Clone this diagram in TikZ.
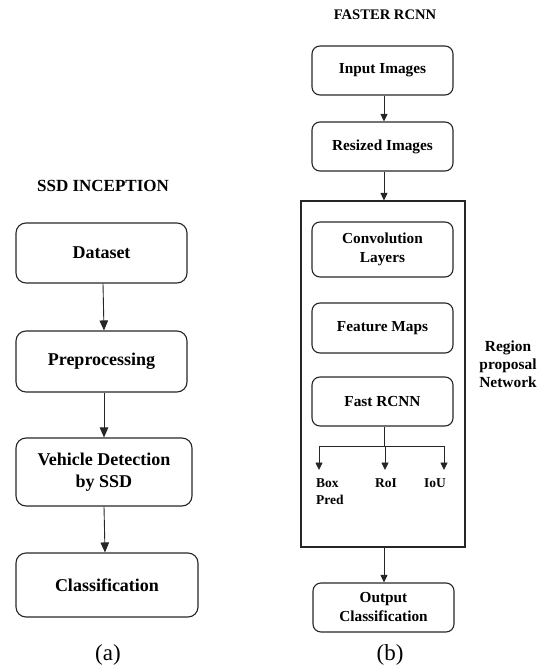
\documentclass[tikz,border=0pt]{standalone}
\usepackage{fontspec}
\setmainfont{Liberation Serif}
\usetikzlibrary{arrows.meta,calc}
\begin{document}
\begin{tikzpicture}[x=1pt,y=-1pt,
  box/.style={draw=black!85,line width=1.1pt,rounded corners=10pt,align=center,inner sep=0pt},
  lbox/.style={box,font=\fontsize{18}{22}\selectfont\bfseries},
  rbox/.style={box,rounded corners=8pt,font=\fontsize{15.3}{19}\selectfont\bfseries},
  arr/.style={draw=black!85,line width=0.9pt,-{Triangle[length=7.5pt,width=7pt]}},
  larr/.style={draw=black!85,line width=0.9pt,-{Triangle[length=10pt,width=8.5pt]}},
  lab/.style={inner sep=0pt,align=left,font=\fontsize{13.5}{17}\selectfont\bfseries}]
\useasboundingbox (0,0) rectangle (544,668);
% ---- (a) SSD INCEPTION
\node[font=\fontsize{17}{20}\selectfont\bfseries] (ta) at (103,186) {SSD INCEPTION};
\node[lbox,minimum width=171pt,minimum height=60pt] (ds) at (101.5,253) {Dataset};
\node[lbox,minimum width=171pt,minimum height=61pt] (pp) at (101.5,361.5) {Preprocessing};
\node[lbox,minimum width=176pt,minimum height=68pt] (vd) at (104,472) {Vehicle Detection\\by SSD};
\node[lbox,minimum width=182pt,minimum height=64pt] (cl) at (107,585) {Classification};
\draw[larr] (ds.south -| 103,0) -- (pp.north -| 104,0);
\draw[larr] (pp.south -| 104,0) -- (vd.north -| 104,0);
\draw[larr] (vd.south -| 104,0) -- (cl.north -| 105,0);
\node[font=\fontsize{23}{26}\selectfont] (ca) at (108,655) {(a)};
% ---- (b) FASTER RCNN
\node[font=\fontsize{14.6}{18}\selectfont\bfseries] (tb) at (385,15) {FASTER RCNN};
\node[rbox,minimum width=141pt,minimum height=49pt] (in) at (382.5,70.5) {Input Images};
\node[rbox,minimum width=141pt,minimum height=49pt] (rs) at (382.5,146.5) {Resized Images};
\node[draw=black!85,line width=1.1pt,minimum width=164pt,minimum height=346pt,inner sep=0pt] (rpn) at (383,374) {};
\node[rbox,minimum width=141pt,minimum height=55pt] (cv) at (382.5,249.5) {Convolution\\Layers};
\node[rbox,minimum width=141pt,minimum height=50pt] (fm) at (382.5,328) {Feature Maps};
\node[rbox,minimum width=141pt,minimum height=49pt] (fr) at (382.5,401.5) {Fast RCNN};
\node[rbox,minimum width=141pt,minimum height=49pt] (oc) at (383.5,607.5) {Output\\Classification};
\draw[arr] (in.south -| 384,0) -- (rs.north -| 384,0);
\draw[arr] (rs.south -| 384,0) -- (rpn.north -| 384,0);
\draw[arr] (rpn.south -| 384,0) -- (oc.north -| 384,0);
\coordinate (br) at (384,446);
\coordinate (bl) at (319,446);
\coordinate (bm) at (385,446);
\coordinate (bri) at (444,446);
\node[lab] (bp) at (316,491.5) [anchor=west] {Box\\Pred};
\node[lab] (roi) at (386,483) {RoI};
\node[lab] (iou) at (435,483) {IoU};
\draw[draw=black!85,line width=0.9pt] (fr.south -| 384,0) -- (br);
\draw[draw=black!85,line width=0.9pt] (bl) -- (bri);
\draw[arr] (bl) -- (319,470);
\draw[arr] (bm) -- (385,470);
\draw[arr] (bri) -- (444,470);
\node[font=\fontsize{15.4}{18}\selectfont\bfseries,align=center] (rpl) at (508,364) {Region\\proposal\\Network};
\node[font=\fontsize{23}{26}\selectfont] (cb) at (390,655) {(b)};
\end{tikzpicture}
\end{document}
